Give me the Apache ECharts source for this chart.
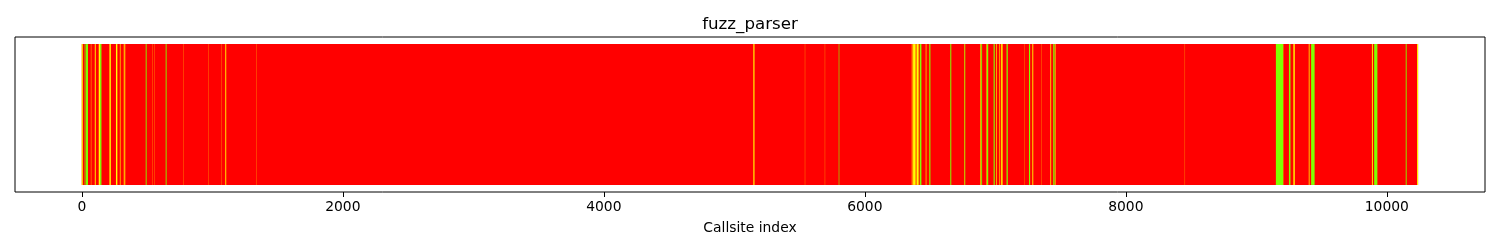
<!DOCTYPE html>
<html>
<head>
<meta charset="utf-8">
<script src="https://cdn.jsdelivr.net/npm/echarts@6/dist/echarts.min.js"></script>
<style>
html,body{margin:0;padding:0;background:#fff;}
#chart{width:1500px;height:250px;}
</style>
</head>
<body>
<div id="chart"></div>
<script>
// ---- data (callsite index runs) ----
const chartTitle = 'fuzz_parser';
const xAxisLabel = 'Callsite index';
const totalCallsites = 10240;           // callsites 0 .. 10239, all red (not covered) by default
const xTickValues = [0, 2000, 4000, 6000, 8000, 10000];
// [firstIndex, lastIndex] runs of yellow callsites
const yellowRuns = [
  [0, 7], [70, 72], [100, 106], [130, 139], [212, 222], [262, 272], [292, 296], [322, 328], [334, 335],
  [539, 540], [559, 560], [776, 777], [968, 969], [1070, 1071], [1100, 1106], [1338, 1339],
  [5146, 5154], [5541, 5542], [5694, 5695],
  [6360, 6365], [6370, 6389], [6396, 6412], [6467, 6471], [6762, 6765], [6884, 6888], [6930, 6933],
  [7008, 7012], [7032, 7036], [7045, 7055], [7220, 7221], [7284, 7290], [7354, 7355], [7422, 7427],
  [7460, 7463], [8452, 8453], [9210, 9211], [9284, 9294], [9402, 9407], [9886, 9892], [10232, 10239]
];
// [firstIndex, lastIndex] runs of green callsites
const greenRuns = [
  [22, 26], [30, 47], [140, 150], [490, 496], [643, 649],
  [5800, 5804],
  [6421, 6433], [6494, 6502], [6655, 6662], [6765, 6769], [6892, 6898], [6936, 6945], [6987, 6995],
  [7086, 7095], [7258, 7266], [7444, 7454],
  [9150, 9205], [9250, 9261], [9420, 9446], [9903, 9927], [10145, 10151]
];
// ---------------------------------------------------------

const COLORS = ['#ff0000', '#ffff00', '#7fff00'];
const runs = [[0, totalCallsites - 1, 0]];
yellowRuns.forEach(r => runs.push([r[0], r[1], 1]));
greenRuns.forEach(r => runs.push([r[0], r[1], 2]));

const BAR_HALF = 0.4;
const chart = echarts.init(document.getElementById('chart'), null, {renderer: 'canvas'});
const font = 'DejaVu Sans';
chart.setOption({
  animation: false,
  backgroundColor: '#ffffff',
  title: {
    text: chartTitle, left: 'center', top: 11,
    textStyle: {fontFamily: font, fontSize: 16.67, fontWeight: 'normal', color: '#000'}
  },
  grid: {left: 15, right: 15, top: 37, bottom: 58, show: true, borderColor: '#000', borderWidth: 1, backgroundColor: 'transparent'},
  xAxis: {
    type: 'value', min: -512, max: 10752,
    name: xAxisLabel, nameLocation: 'middle', nameGap: 29,
    nameTextStyle: {fontFamily: font, fontSize: 13.89, color: '#000'},
    axisLine: {show: false, onZero: false},
    axisTick: {show: true, customValues: xTickValues, length: 5, lineStyle: {color: '#000', width: 1}},
    axisLabel: {customValues: xTickValues, formatter: v => String(v), fontFamily: font, fontSize: 13.89, color: '#000', margin: 8},
    splitLine: {show: false}
  },
  yAxis: {type: 'value', min: -0.05, max: 1.05, show: false},
  series: [{
    type: 'custom',
    data: runs,
    encode: {x: [0, 1]},
    renderItem: function (params, api) {
      const p0 = api.coord([api.value(0) - BAR_HALF, 1]);
      const p1 = api.coord([api.value(1) + BAR_HALF, 0]);
      return {
        type: 'rect',
        shape: {x: p0[0], y: p0[1], width: p1[0] - p0[0], height: p1[1] - p0[1]},
        style: {fill: COLORS[api.value(2)]}
      };
    }
  }]
});
</script>
</body>
</html>
